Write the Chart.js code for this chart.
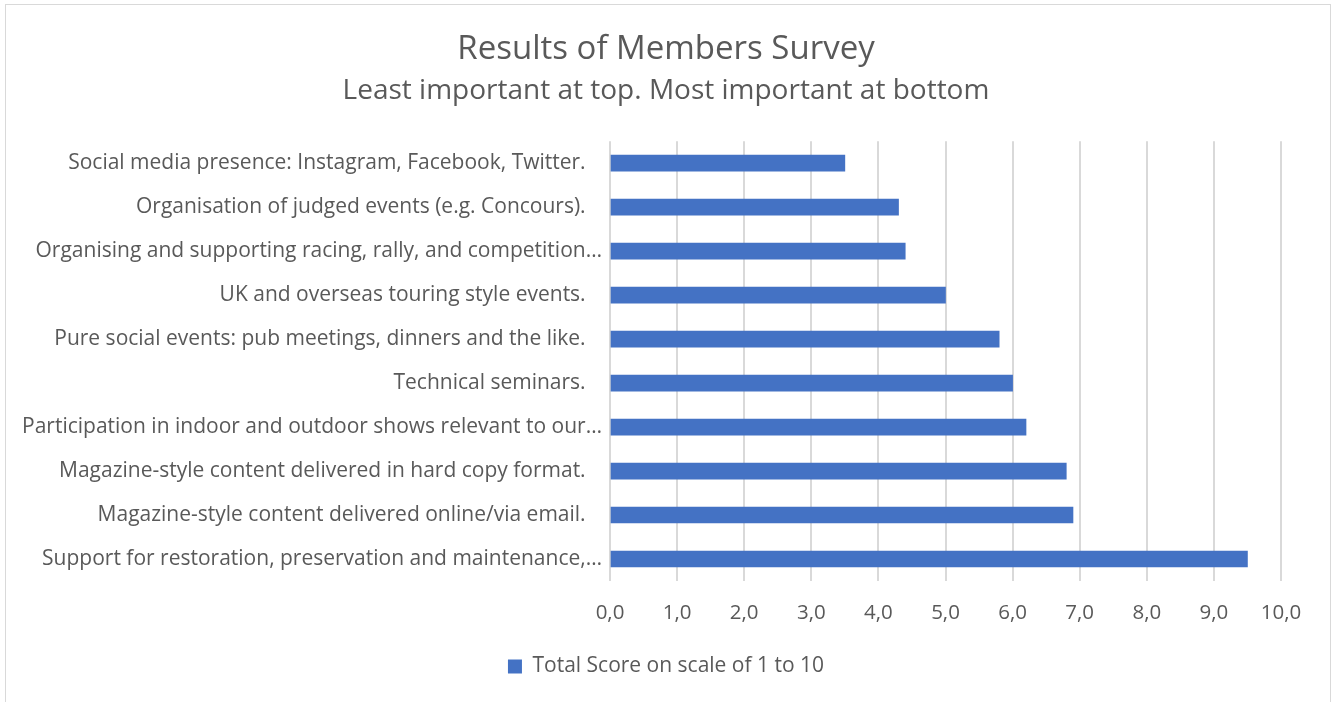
<!DOCTYPE html>
<html>
<head>
<meta charset="utf-8">
<script src="https://cdn.jsdelivr.net/npm/chart.js@4"></script>
<style>
html,body{margin:0;padding:0;background:#fff;}
#wrap{width:1332px;height:702px;position:relative;}
</style>
</head>
<body>
<div id="wrap"><canvas id="c" width="1332" height="702"></canvas></div>
<script>
const categories = [
  "Social media presence: Instagram, Facebook, Twitter.   ",
  "Organisation of judged events (e.g. Concours).   ",
  "Organising and supporting racing, rally, and competition\u2026",
  "UK and overseas touring style events.   ",
  "Pure social events: pub meetings, dinners and the like.   ",
  "Technical seminars.   ",
  "Participation in indoor and outdoor shows relevant to our\u2026",
  "Magazine-style content delivered in hard copy format.   ",
  "Magazine-style content delivered online/via email.   ",
  "Support for restoration, preservation and maintenance,\u2026"
];
const scores = [3.5, 4.3, 4.4, 5.0, 5.8, 6.0, 6.2, 6.8, 6.9, 9.5];
const seriesName = "Total Score on scale of 1 to 10";
const titleText = "Results of Members Survey";
const subtitleText = "Least important at top. Most important at bottom";
const xMin = 0, xMax = 10, xStep = 1;

const FONT = "'Open Sans', sans-serif";
const TEXT = "#595959";

const borderPlugin = {
  id: 'frame',
  beforeDraw(chart) {
    const ctx = chart.ctx;
    ctx.save();
    ctx.fillStyle = '#fff';
    ctx.fillRect(0, 0, chart.width, chart.height);
    ctx.strokeStyle = '#D9D9D9';
    ctx.lineWidth = 1;
    ctx.strokeRect(5.5, 4.5, 1325, 720);
    ctx.restore();
  }
};

new Chart(document.getElementById('c'), {
  type: 'bar',
  data: {
    labels: categories,
    datasets: [{
      label: seriesName,
      data: scores,
      backgroundColor: '#4472C4',
      borderWidth: 0,
      barThickness: 16
    }]
  },
  options: {
    indexAxis: 'y',
    responsive: false,
    devicePixelRatio: 1,
    animation: false,
    layout: { padding: { left: 0, right: 0, top: 30, bottom: 15 } },
    plugins: {
      title: {
        display: true, text: titleText, color: TEXT,
        font: { family: FONT, size: 33, weight: 'normal', lineHeight: 1.2 },
        padding: { top: 0, bottom: 5 }
      },
      subtitle: {
        display: true, text: subtitleText, color: TEXT,
        font: { family: FONT, size: 28, weight: 'normal', lineHeight: 1.2 },
        padding: { top: 0, bottom: 33 }
      },
      legend: {
        position: 'bottom',
        labels: {
          color: TEXT, boxWidth: 14, boxHeight: 14,
          font: { family: FONT, size: 21 }, padding: 10
        }
      },
      tooltip: { enabled: false }
    },
    scales: {
      x: {
        min: xMin, max: xMax,
        ticks: {
          stepSize: xStep, color: TEXT, padding: 20,
          font: { family: FONT, size: 20.5 },
          callback: v => Number(v).toFixed(1).replace('.', ',')
        },
        grid: { color: '#D9D9D9', lineWidth: 2, drawTicks: false },
        border: { display: false },
        afterFit(s) { s.height = 65; }
      },
      y: {
        ticks: {
          color: TEXT, padding: 8, autoSkip: false,
          font: { family: FONT, size: 21 }
        },
        grid: { display: false, drawTicks: false },
        border: { display: false },
        afterFit(s) { s.width = 610; }
      },
      yRight: {
        axis: 'y',
        type: 'linear',
        position: 'right',
        ticks: { display: false },
        grid: { display: false, drawTicks: false },
        border: { display: false },
        afterFit(s) { s.width = 51; }
      }
    }
  },
  plugins: [borderPlugin]
});
</script>
</body>
</html>
